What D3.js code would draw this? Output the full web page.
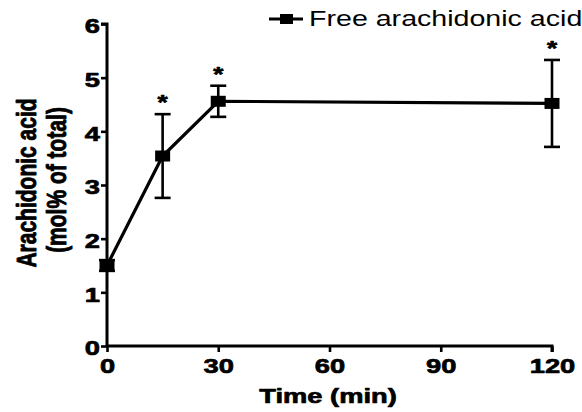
<!DOCTYPE html>
<html><head><meta charset="utf-8">
<script src="https://cdn.jsdelivr.net/npm/d3@7"></script>
<style>
html,body{margin:0;padding:0;background:#fff;}
svg{display:block;font-family:Arial,"Liberation Sans",sans-serif;}
</style></head>
<body><svg id="chart" width="582" height="412"></svg>
<script>
// Free arachidonic acid over time (mean ± error)
const times = [0, 15, 30, 120];
const means = [1.50, 3.54, 4.56, 4.52];
const errors = [0.10, 0.78, 0.29, 0.81];
const significant = [false, true, true, true];
const xTicks = [0, 30, 60, 90, 120];
const yTicks = [0, 1, 2, 3, 4, 5, 6];
const seriesName = "Free arachidonic acid";

const FONT = "Arial, 'Liberation Sans', sans-serif";
const WIDE = 1.3; // horizontal stretch of the lettering

const svg = d3.select("#chart");
const x = d3.scaleLinear().domain([0, 120]).range([107, 552]);
const y = d3.scaleLinear().domain([0, 6]).range([346, 24]);

// text placed at (tx,ty) with a widened glyph shape
function label(parent, tx, ty, str, opts = {}) {
  const g = parent.append("g")
    .attr("transform", `translate(${tx},${ty}) scale(${WIDE},1)` + (opts.rotate ? ` rotate(${opts.rotate})` : ""));
  const bold = opts.bold !== false;
  const t = g.append("text")
    .attr("text-anchor", opts.anchor || "middle")
    .attr("dy", opts.dy || 0)
    .style("font-family", FONT)
    .style("font-size", (opts.size || 21) + "px")
    .style("font-weight", bold ? "bold" : "normal")
    .attr("fill", "#000")
    .text(str);
  if (bold) t.attr("stroke", "#000").attr("stroke-width", 0.7).attr("stroke-linejoin", "round");
  return t;
}

// axes
const yAxis = svg.append("g").attr("transform", "translate(107,0)")
  .call(d3.axisLeft(y).tickValues(yTicks).tickSize(6).tickFormat(d3.format("d")));
const xAxis = svg.append("g").attr("transform", "translate(0,346)")
  .call(d3.axisBottom(x).tickValues(xTicks).tickSize(6).tickFormat(d3.format("d")));
[yAxis, xAxis].forEach(g => {
  g.select(".domain").attr("stroke", "#000").attr("stroke-width", 3);
  g.selectAll(".tick line").attr("stroke", "#000").attr("stroke-width", 2.6);
});
yAxis.select(".domain").attr("d", `M-6,${y(6)}H0V${y(0)}`);
xAxis.select(".domain").attr("d", `M${x(0)},0H${x(120)}V6`);

// widened tick labels
yAxis.selectAll(".tick text").each(function() {
  const t = d3.select(this).text();
  const tick = d3.select(this.parentNode);
  d3.select(this).remove();
  label(tick, -7, 0, t, {anchor: "end", dy: "0.42em"});
});
xAxis.selectAll(".tick text").each(function() {
  const t = d3.select(this).text();
  const tick = d3.select(this.parentNode);
  d3.select(this).remove();
  label(tick, 0, 27, t);
});

// axis titles
label(svg, 328, 403, "Time (min)");
label(svg, 36, 183, "Arachidonic acid", {rotate: -90});
label(svg, 66, 180, "(mol% of total)", {rotate: -90});

const pts = times.map((t, i) => ({t, m: means[i], e: errors[i], s: significant[i]}));

// error bars
const eb = svg.append("g").attr("stroke", "#000").attr("stroke-width", 2.6);
pts.forEach(p => {
  const cx = x(p.t);
  eb.append("line").attr("x1", cx).attr("x2", cx).attr("y1", y(p.m + p.e)).attr("y2", y(p.m - p.e));
  eb.append("line").attr("x1", cx - 8).attr("x2", cx + 8).attr("y1", y(p.m + p.e)).attr("y2", y(p.m + p.e));
  eb.append("line").attr("x1", cx - 8).attr("x2", cx + 8).attr("y1", y(p.m - p.e)).attr("y2", y(p.m - p.e));
});

// connecting line
svg.append("path").datum(pts)
  .attr("d", d3.line().x(d => x(d.t)).y(d => y(d.m)))
  .attr("fill", "none").attr("stroke", "#000").attr("stroke-width", 3.2);

// square markers
svg.selectAll("rect.pt").data(pts).join("rect").attr("class", "pt")
  .attr("x", d => x(d.t) - 7.5).attr("y", d => y(d.m) - 5.5)
  .attr("width", 15).attr("height", 11).attr("fill", "#000");

// significance asterisks
const stars = svg.append("g");
pts.filter(d => d.s).forEach(d => {
  label(stars, x(d.t), y(d.m + d.e) - 5, "*", {size: 20});
});

// legend
const lg = svg.append("g");
lg.append("line").attr("x1", 269).attr("x2", 303).attr("y1", 19).attr("y2", 19)
  .attr("stroke", "#000").attr("stroke-width", 3);
lg.append("rect").attr("x", 280).attr("y", 14).attr("width", 13).attr("height", 10).attr("fill", "#000");
label(lg, 309, 26, seriesName, {anchor: "start", size: 22, bold: false});
</script></body></html>
